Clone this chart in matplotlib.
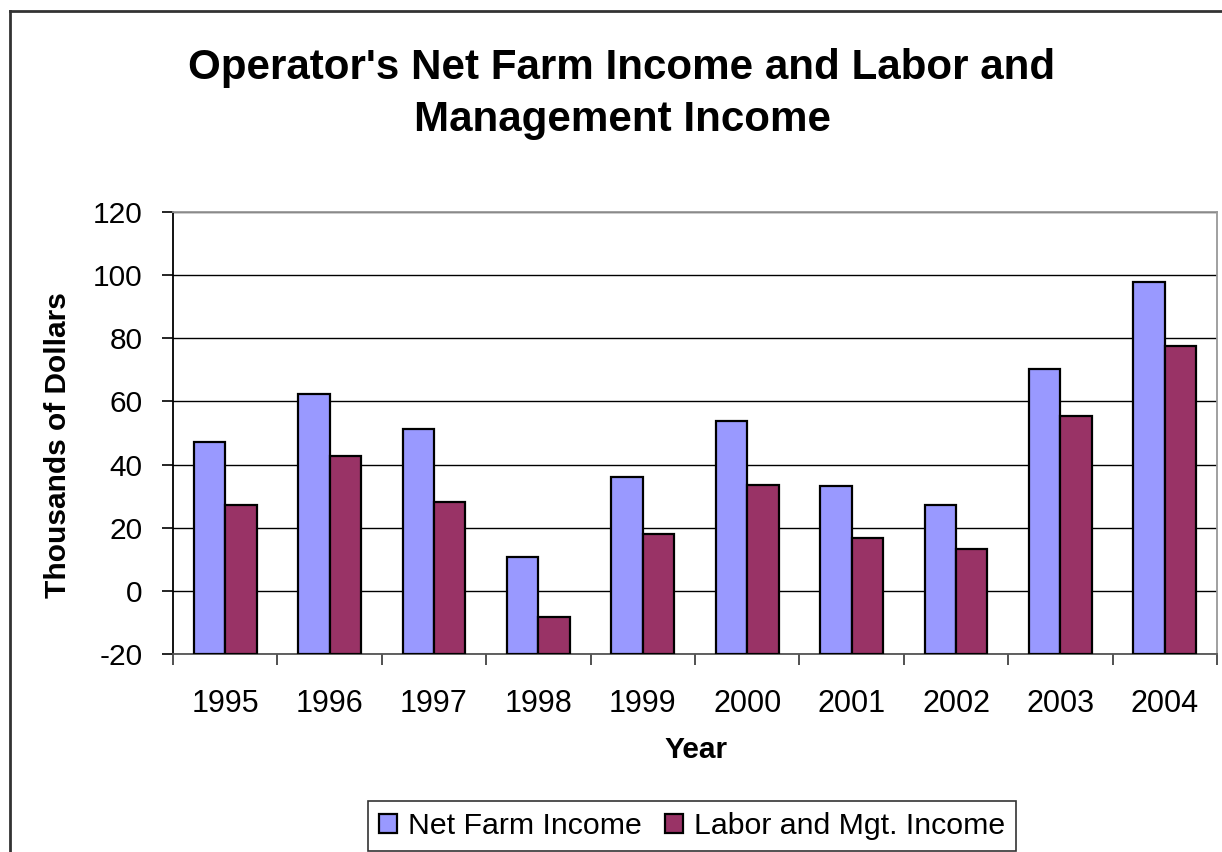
import matplotlib
matplotlib.use("Agg")
import matplotlib.pyplot as plt
import numpy as np
from matplotlib.lines import Line2D

years = ["1995", "1996", "1997", "1998", "1999", "2000", "2001", "2002", "2003", "2004"]
net_farm_income = [47.0, 62.2, 51.2, 10.8, 36.1, 53.7, 33.1, 27.3, 70.4, 97.7]
labor_mgt_income = [27.2, 42.7, 28.3, -8.3, 18.1, 33.6, 16.8, 13.2, 55.5, 77.7]
y_ticks = [-20, 0, 20, 40, 60, 80, 100, 120]

plt.rcParams["font.family"] = ["Liberation Sans", "DejaVu Sans"]

W, H = 1222, 852
fig = plt.figure(figsize=(W / 100, H / 100), dpi=100)
fig.patch.set_facecolor("white")

# plot area in pixel coords of the reference
x0, x1, y0, y1 = 173, 1217, 212, 654
ax = fig.add_axes([x0 / W, 1 - y1 / H, (x1 - x0) / W, (y1 - y0) / H])

base = y_ticks[0]  # Excel draws the bars up from the category axis at -20
x = np.arange(len(years))
w = 0.3
nfi = np.array(net_farm_income)
lmi = np.array(labor_mgt_income)
ax.bar(x - w / 2, nfi - base, w, bottom=base, color="#9999FF", edgecolor="black",
       linewidth=1.6, label="Net Farm Income", zorder=3)
ax.bar(x + w / 2, lmi - base, w, bottom=base, color="#993366", edgecolor="black",
       linewidth=1.6, label="Labor and Mgt. Income", zorder=3)

ax.set_xlim(-0.5, len(years) - 0.5)
ax.set_ylim(y_ticks[0], y_ticks[-1])
ax.set_yticks(y_ticks)
ax.set_yticklabels([str(t) for t in y_ticks], fontsize=21.5)
ax.grid(axis="y", color="black", linewidth=1.0, zorder=0)

# category labels centred, ticks on the boundaries
ax.set_xticks(np.arange(len(years) + 1) - 0.5)
ax.set_xticklabels([])
ax.set_xticks(x, labels=years, minor=True, fontsize=22)
ax.tick_params(axis="x", which="major", direction="out", length=8, width=1.2, color="#333333")
ax.tick_params(axis="x", which="minor", length=0, pad=25)
ax.tick_params(axis="y", direction="out", length=8, width=1.2, pad=14)

ax.spines["left"].set_color("black")
ax.spines["bottom"].set_color("#555555")
ax.spines["top"].set_color("#999999")
ax.spines["right"].set_color("#999999")
for s in ax.spines.values():
    s.set_linewidth(1.3)

fig.text(622 / W, 1 - 94 / H, "Operator's Net Farm Income and Labor and\nManagement Income",
         ha="center", va="center", fontsize=30.3, fontweight="bold", linespacing=1.37)
fig.text(58 / W, 1 - 445 / H, "Thousands of Dollars", rotation=90, ha="center", va="center",
         fontsize=21.5, fontweight="bold")
fig.text(696 / W, 1 - 750 / H, "Year", ha="center", va="center", fontsize=21.5, fontweight="bold")

leg = fig.legend(loc="center", bbox_to_anchor=(692 / W, 1 - 826 / H), ncol=2, fontsize=21.8,
                 frameon=True, fancybox=False, edgecolor="black", handlelength=0.6,
                 handleheight=0.6, handletextpad=0.37, columnspacing=0.74, borderpad=0.35,
                 borderaxespad=0)
leg.get_frame().set_linewidth(1.2)

# outer chart frame (only top and left edges are visible in the crop)
fig.add_artist(Line2D([10 / W, 1], [1 - 11 / H, 1 - 11 / H], color="#333333", linewidth=2,
                      transform=fig.transFigure))
fig.add_artist(Line2D([10 / W, 10 / W], [0, 1 - 11 / H], color="#333333", linewidth=2,
                      transform=fig.transFigure))

fig.savefig("out.png", dpi=100)
